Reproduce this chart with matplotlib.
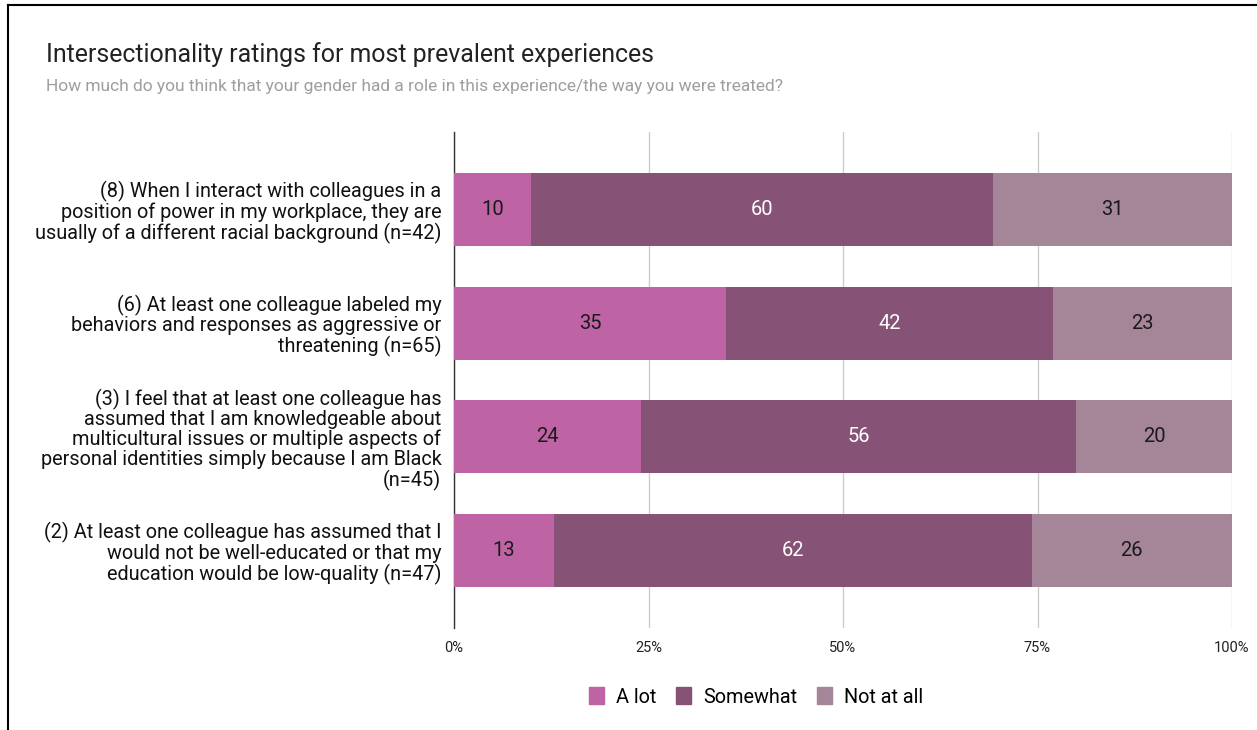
import matplotlib
matplotlib.use("Agg")
import matplotlib.pyplot as plt
from matplotlib.lines import Line2D
from matplotlib.patches import Patch
import numpy as np

plt.rcParams['font.family'] = ['Roboto', 'DejaVu Sans']

categories = [
    "(8) When I interact with colleagues in a\nposition of power in my workplace, they are\nusually of a different racial background (n=42)",
    "(6) At least one colleague labeled my\nbehaviors and responses as aggressive or\nthreatening (n=65)",
    "(3) I feel that at least one colleague has\nassumed that I am knowledgeable about\nmulticultural issues or multiple aspects of\npersonal identities simply because I am Black\n(n=45)",
    "(2) At least one colleague has assumed that I\nwould not be well-educated or that my\neducation would be low-quality (n=47)",
]
series_names = ["A lot", "Somewhat", "Not at all"]
a_lot = [10, 35, 24, 13]
somewhat = [60, 42, 56, 62]
not_at_all = [31, 23, 20, 26]
tick_labels = ["0%", "25%", "50%", "75%", "100%"]

colors = ["#BE63A4", "#865377", "#A58698"]
text_colors = ["#1a1a1a", "white", "#1a1a1a"]

W, H = 1257, 730
fig = plt.figure(figsize=(W / 100, H / 100), dpi=100)
ax = fig.add_axes([454 / W, 1 - 628 / H, (1232 - 454) / W, (628 - 132) / H])

data = np.array([a_lot, somewhat, not_at_all], dtype=float)
totals = data.sum(axis=0)
shares = data / totals
y = np.arange(len(categories))
left = np.zeros(len(categories))
for i, name in enumerate(series_names):
    bars = ax.barh(y, shares[i], left=left, height=0.64, color=colors[i],
                   label=name, zorder=3)
    for j, b in enumerate(bars):
        ax.text(left[j] + shares[i][j] / 2, y[j], f"{int(data[i][j])}",
                ha="center", va="center", fontsize=14.5, color=text_colors[i],
                zorder=4)
    left += shares[i]

ax.set_xlim(0, 1)
ax.set_ylim(3.68, -0.68)
ax.set_xticks([0, 0.25, 0.5, 0.75, 1.0])
ax.set_xticklabels(tick_labels, fontsize=10.5, color="#222222")
ax.tick_params(axis="x", length=0, pad=9)
ax.grid(axis="x", color="#cccccc", linewidth=1, zorder=0)
ax.set_yticks(y)
ax.set_yticklabels(categories, fontsize=14.3, color="#111111", linespacing=1.04)
ax.tick_params(axis="y", length=0, pad=9)
for s in ["top", "right", "bottom"]:
    ax.spines[s].set_visible(False)
ax.spines["left"].set_color("#333333")
ax.spines["left"].set_linewidth(1)

fig.text(46 / W, 1 - 55 / H, "Intersectionality ratings for most prevalent experiences",
         fontsize=17.9, color="#222222", va="center", ha="left")
fig.text(46 / W, 1 - 86 / H,
         "How much do you think that your gender had a role in this experience/the way you were treated?",
         fontsize=12.5, color="#9e9e9e", va="center", ha="left")

handles = [Patch(facecolor=c, edgecolor=c) for c in colors]
fig.legend(handles, series_names, loc="center", bbox_to_anchor=(756 / W, 1 - 697 / H),
           ncol=3, frameon=False, fontsize=14.3, handlelength=0.75, handleheight=0.9,
           handletextpad=0.6, columnspacing=1.0)

# frame edges along the top and left of the canvas
fig.add_artist(Line2D([8 / W, 1], [1 - 5 / H, 1 - 5 / H], color="black", linewidth=1.5))
fig.add_artist(Line2D([8 / W, 8 / W], [0, 1 - 5 / H], color="black", linewidth=1.5))

fig.savefig("out.png", dpi=100, facecolor="white")
